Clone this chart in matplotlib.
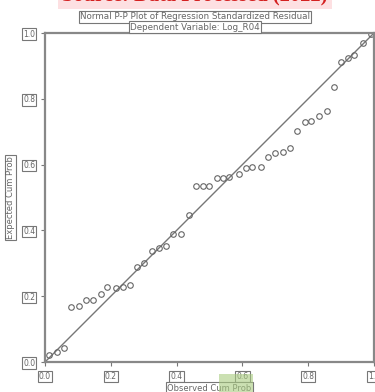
import matplotlib.pyplot as plt
from matplotlib.patches import Rectangle

# Observed vs expected cumulative probabilities
observed = [0.012, 0.037, 0.058, 0.079, 0.103, 0.125, 0.146, 0.17, 0.19, 0.215,
            0.237, 0.258, 0.28, 0.30, 0.325, 0.347, 0.368, 0.39, 0.413, 0.437,
            0.459, 0.48, 0.50, 0.523, 0.54, 0.56, 0.59, 0.61, 0.63, 0.656,
            0.678, 0.70, 0.723, 0.745, 0.766, 0.79, 0.81, 0.833, 0.857, 0.878,
            0.90, 0.92, 0.94, 0.966, 0.99]
expected = [0.02, 0.03, 0.043, 0.167, 0.17, 0.19, 0.19, 0.207, 0.228, 0.225,
            0.228, 0.234, 0.29, 0.30, 0.337, 0.347, 0.353, 0.39, 0.39, 0.447,
            0.535, 0.535, 0.535, 0.559, 0.559, 0.562, 0.571, 0.59, 0.593, 0.593,
            0.623, 0.635, 0.638, 0.65, 0.702, 0.73, 0.733, 0.748, 0.763, 0.836,
            0.912, 0.924, 0.933, 0.97, 0.998]
ticks = [0.0, 0.2, 0.4, 0.6, 0.8, 1.0]
tick_labels = ["0.0", "0.2", "0.4", "0.6", "0.8", "1.0"]

grey = "#666666"
box = dict(boxstyle="square,pad=0.15", facecolor="white", edgecolor="#777777", linewidth=0.8)

fig = plt.figure(figsize=(3.75, 3.92), dpi=100)
ax = fig.add_axes([0.12, 0.0765, 0.877, 0.839])

# Reference line and points
ax.plot([0, 1], [0, 1], color="#777777", linewidth=1.0)
ax.plot(observed, expected, linestyle="none", marker="o", markersize=4.0,
        markerfacecolor="none", markeredgecolor="#666666", markeredgewidth=0.8)

ax.set_xlim(0, 1)
ax.set_ylim(0, 1)
for side in ax.spines.values():
    side.set_color("#888888")
    side.set_linewidth(1.6)

ax.set_xticks(ticks)
ax.set_yticks(ticks)
ax.set_xticklabels(tick_labels)
ax.set_yticklabels(tick_labels)
ax.tick_params(direction="out", length=3, width=0.8, color="#777777",
               labelsize=5.5, labelcolor=grey, pad=4)
for lbl in ax.get_xticklabels() + ax.get_yticklabels():
    lbl.set_bbox(box)

ax.set_xlabel("Observed Cum Prob", fontsize=6, color=grey, labelpad=2, bbox=box)
ax.set_ylabel("Expected Cum Prob", fontsize=6, color=grey, labelpad=6, bbox=box)

# Titles
fig.text(0.52, 0.957, "Normal P-P Plot of Regression Standardized Residual",
         ha="center", va="center", fontsize=6.3, color=grey, bbox=box)
fig.text(0.52, 0.931, "Dependent Variable: Log_R04",
         ha="center", va="center", fontsize=6.3, color=grey, bbox=box)

# Red source caption, cut off at the top edge
fig.text(0.52, 1.012, "Source: Data Processed (2022)", ha="center", va="center",
         fontsize=14.8, fontweight="bold", family="Liberation Serif", color="#d42020",
         bbox=dict(boxstyle="square,pad=0.2", facecolor="#fde0e2", edgecolor="none"))

# Green highlight over part of the x label
fig.patches.append(Rectangle((0.585, 0.0), 0.09, 0.045, transform=fig.transFigure,
                             facecolor="#a9cc80", alpha=0.6, edgecolor="none", zorder=0))

plt.savefig("out.png", dpi=100)
